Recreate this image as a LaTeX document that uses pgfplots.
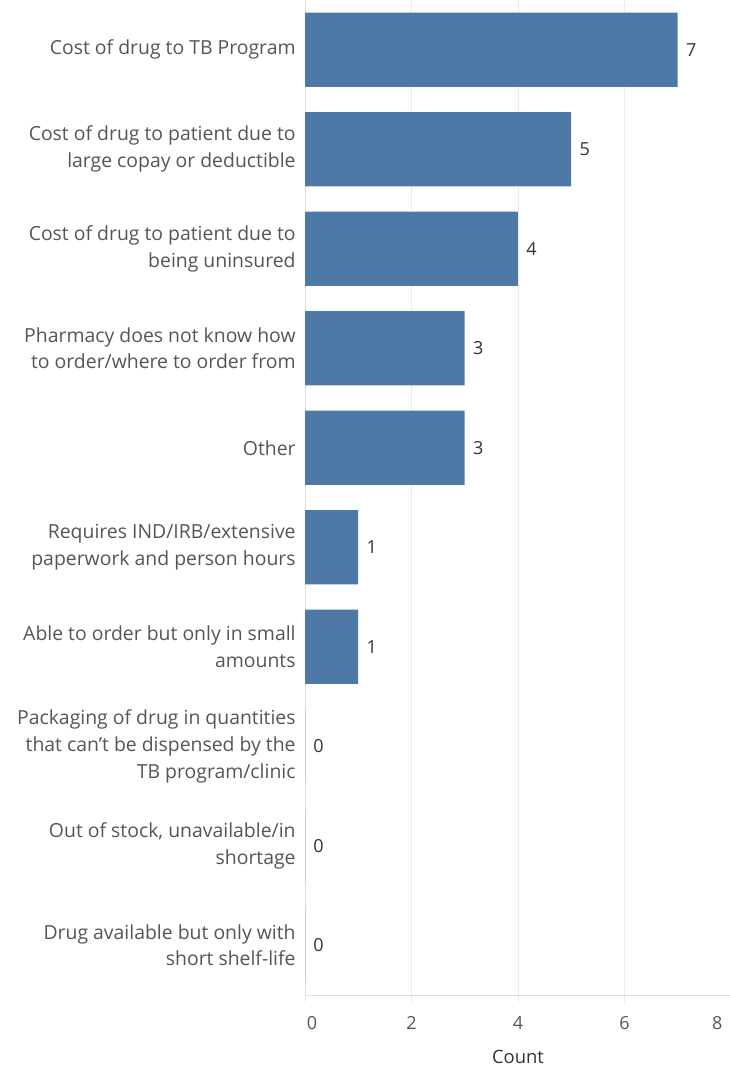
\documentclass[border=0pt]{standalone}
\usepackage{pgfplots}
\pgfplotsset{compat=1.18}
\usepackage{fontspec}
\setmainfont{Open Sans}
\definecolor{barblue}{HTML}{4E79A7}
\definecolor{labgray}{HTML}{555555}
\definecolor{valgray}{HTML}{333333}
\definecolor{gridgray}{HTML}{EBEBEB}
\definecolor{axgray}{HTML}{DDDDDD}
\begin{document}
\begin{tikzpicture}
\begin{axis}[
  at={(0,0)}, anchor=south west,
  scale only axis,
  width=213pt, height=497.5pt,
  xbar, bar width=0.745,
  xmin=0, xmax=8,
  ymin=-0.5, ymax=9.5,
  y dir=reverse,
  /pgf/number format/assume math mode=true,
  ytick={0,...,9},
  yticklabels={
    {Cost of drug to TB Program},
    {Cost of drug to patient due to\\large copay or deductible},
    {Cost of drug to patient due to\\being uninsured},
    {Pharmacy does not know how\\to order/where to order from},
    {Other},
    {Requires IND/IRB/extensive\\paperwork and person hours},
    {Able to order but only in small\\amounts},
    {Packaging of drug in quantities\\that can’t be dispensed by the\\TB program/clinic},
    {Out of stock, unavailable/in\\shortage},
    {Drug available but only with\\short shelf-life}
  },
  yticklabel style={align=right, font=\fontsize{9.7pt}{13.4pt}\selectfont, text=labgray, inner sep=0pt, xshift=-1pt},
  xtick={0,2,4,6,8},
  xticklabels={{\makebox[0pt][l]{\hspace{1pt}0}},2,4,6,{\makebox[0pt][r]{8\hspace{4.3pt}}}},
  xticklabel style={font=\fontsize{9pt}{10pt}\selectfont, text=labgray, inner sep=0pt, yshift=-7pt},
  xlabel={Count},
  xlabel style={font=\fontsize{9.2pt}{10pt}\selectfont, text=valgray, yshift=-6.5pt},
  axis x line*=bottom, axis y line*=left,
  axis line style={draw=axgray, -},
  xmajorgrids, grid style={draw=gridgray},
  x tick style={draw=gridgray}, major tick length=3.5pt,
  xtick pos=bottom,
  tick align=outside,
  y tick style={draw=none},
  nodes near coords,
  nodes near coords style={font=\fontsize{9pt}{10pt}\selectfont, text=valgray, anchor=west, inner sep=0pt, xshift=4pt},
]
\addplot[fill=barblue, draw=none] coordinates {
  (7,0) (5,1) (4,2) (3,3) (3,4) (1,5) (1,6) (0,7) (0,8) (0,9)
};
\end{axis}
\pgfresetboundingbox
\path[use as bounding box] (-152.5pt,-36.5pt) rectangle (212pt,497.5pt);
\end{tikzpicture}
\end{document}
